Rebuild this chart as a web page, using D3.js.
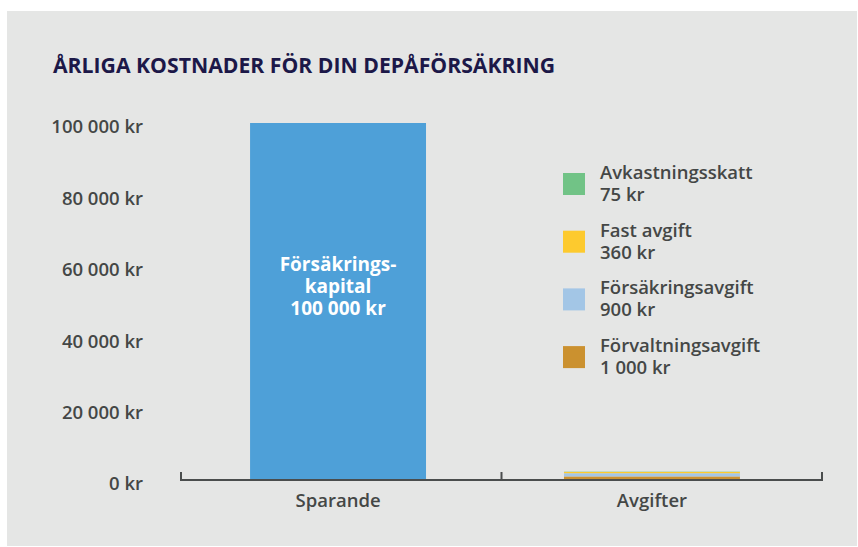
<!DOCTYPE html>
<html><head><meta charset="utf-8">
<script src="https://cdn.jsdelivr.net/npm/d3@7"></script>
<style>body{margin:0;background:#fff;} svg{display:block;font-family:"Open Sans",sans-serif;}</style>
</head><body>
<svg id="c" width="858" height="547"></svg>
<script>
const categories = ["Sparande", "Avgifter"];
const savingsValue = 100000;
const feeNames = ["Förvaltningsavgift", "Försäkringsavgift", "Fast avgift", "Avkastningsskatt"];
const feeValues = [1000, 900, 360, 75];
const feeLabels = ["1 000 kr", "900 kr", "360 kr", "75 kr"];
const feeColors = ["#cb912f", "#a3c6e6", "#fdca2e", "#71c386"];
const yTicks = [0, 20000, 40000, 60000, 80000, 100000];
const yTickLabels = ["0 kr", "20 000 kr", "40 000 kr", "60 000 kr", "80 000 kr", "100 000 kr"];
const barLabel = ["Försäkrings-", "kapital", "100 000 kr"];
const title = "ÅRLIGA KOSTNADER FÖR DIN DEPÅFÖRSÄKRING";

const svg = d3.select("#c");
svg.append("rect").attr("x", 7).attr("y", 11).attr("width", 850).attr("height", 535).attr("fill", "#e5e6e5");

svg.append("text").attr("x", 53).attr("y", 73).text(title)
  .attr("font-size", 21.2).attr("font-weight", 700).attr("fill", "#1c1848");

const y = d3.scaleLinear().domain([0, 100000]).range([480, 123]);
const x = d3.scaleBand().domain(categories).range([181, 809]).paddingInner(0.4395).paddingOuter(0.22);

const fs = 18.5;
// y tick labels
const yAxis = d3.axisLeft(y).tickValues(yTicks).tickSize(0).tickPadding(0)
  .tickFormat((d, i) => yTickLabels[i]);
const yg = svg.append("g").attr("transform", "translate(143,4)").call(yAxis);
yg.select(".domain").remove();
yg.selectAll("text").attr("font-family", "Open Sans").attr("font-size", fs).attr("font-weight", 600).attr("fill", "#444746");

// savings bar
svg.append("rect").attr("x", x("Sparande")).attr("y", y(savingsValue))
  .attr("width", x.bandwidth()).attr("height", y(0) - y(savingsValue)).attr("fill", "#4ea0d8");

// stacked fees
let cum = 0;
feeValues.forEach((v, i) => {
  svg.append("rect").attr("x", x("Avgifter")).attr("y", y(cum + v))
    .attr("width", x.bandwidth()).attr("height", y(cum) - y(cum + v)).attr("fill", feeColors[i]);
  cum += v;
});

// bar label
const cx = x("Sparande") + x.bandwidth() / 2;
const bl = svg.append("text").attr("text-anchor", "middle").attr("font-size", 19).attr("font-weight", 700).attr("fill", "#fff");
barLabel.forEach((t, i) => bl.append("tspan").attr("x", cx).attr("y", 271 + i * 22).text(t));

// x axis line and ticks
const axisColor = "#4a4d4d";
svg.append("line").attr("x1", 180).attr("x2", 823).attr("y1", 480).attr("y2", 480).attr("stroke", axisColor).attr("stroke-width", 2);
[181, 501.5, 822].forEach(tx => svg.append("line").attr("x1", tx).attr("x2", tx).attr("y1", 472).attr("y2", 481).attr("stroke", axisColor).attr("stroke-width", 2));

categories.forEach(c => {
  svg.append("text").attr("x", x(c) + x.bandwidth() / 2).attr("y", 507).attr("text-anchor", "middle")
    .attr("font-size", fs).attr("font-weight", 600).attr("fill", "#444746").text(c);
});

// legend (top to bottom reverse of stack)
const legendOrder = [3, 2, 1, 0];
legendOrder.forEach((k, j) => {
  const ly = 173 + j * 57.7;
  svg.append("rect").attr("x", 563).attr("y", ly).attr("width", 22).attr("height", 22).attr("fill", feeColors[k]);
  const t = svg.append("text").attr("font-size", fs).attr("font-weight", 600).attr("fill", "#444746");
  t.append("tspan").attr("x", 600).attr("y", ly + 6).text(feeNames[k]);
  t.append("tspan").attr("x", 600).attr("y", ly + 28).text(feeLabels[k]);
});
</script>
</body></html>
